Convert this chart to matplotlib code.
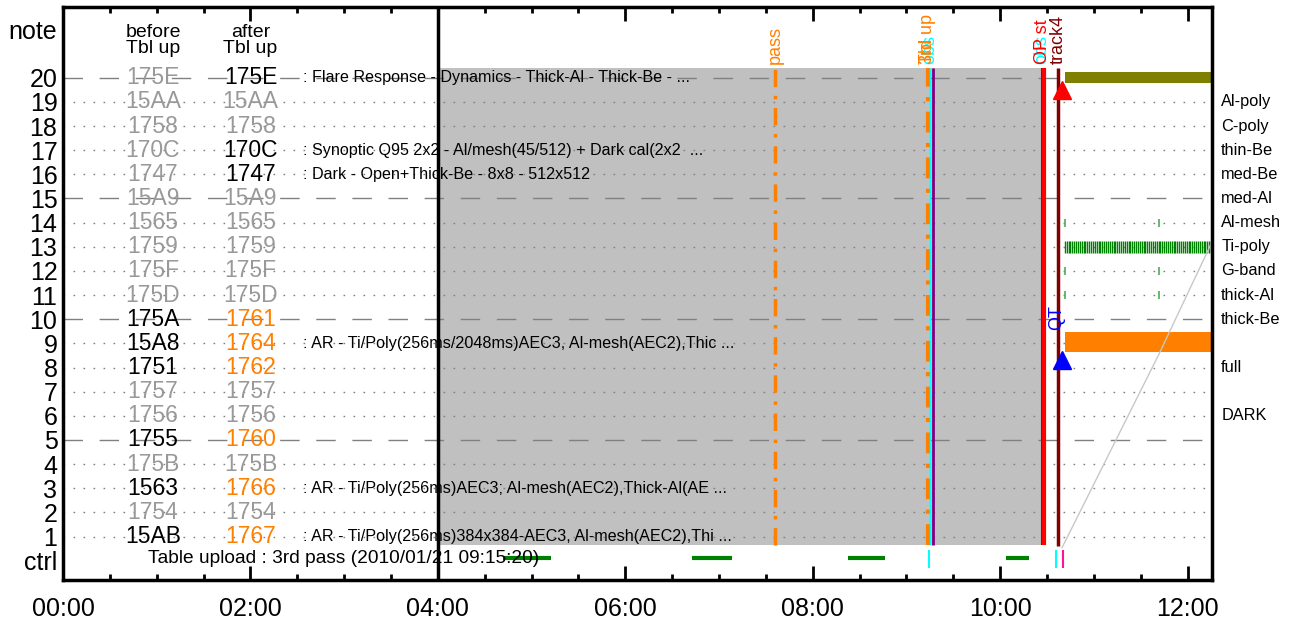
import numpy as np
import matplotlib.pyplot as plt
from matplotlib.ticker import FuncFormatter, MultipleLocator

plt.rcParams['font.family'] = ['Liberation Sans', 'DejaVu Sans']

# rows 20 -> 1 : table ids before / after the table upload
rows = list(range(20, 0, -1))
before_ids = ['175E', '15AA', '1758', '170C', '1747', '15A9', '1565', '1759', '175F', '175D',
              '175A', '15A8', '1751', '1757', '1756', '1755', '175B', '1563', '1754', '15AB']
after_ids = ['175E', '15AA', '1758', '170C', '1747', '15A9', '1565', '1759', '175F', '175D',
             '1761', '1764', '1762', '1757', '1756', '1760', '175B', '1766', '1754', '1767']
changed_rows = [10, 9, 8, 5, 3, 1]      # uploaded rows (orange after)
active_rows = [20, 17, 16]             # in use, unchanged

note_rows = [20, 17, 16, 9, 3, 1]
note_texts = [': Flare Response - Dynamics - Thick-Al - Thick-Be - ...',
              ': Synoptic Q95 2x2 - Al/mesh(45/512) + Dark cal(2x2  ...',
              ': Dark - Open+Thick-Be - 8x8 - 512x512',
              ': AR - Ti/Poly(256ms/2048ms)AEC3, Al-mesh(AEC2),Thic ...',
              ': AR - Ti/Poly(256ms)AEC3; Al-mesh(AEC2),Thick-Al(AE ...',
              ': AR - Ti/Poly(256ms)384x384-AEC3, Al-mesh(AEC2),Thi ...']

filter_rows = [19, 18, 17, 16, 15, 14, 13, 12, 11, 10, 8, 6]
filter_names = ['Al-poly', 'C-poly', 'thin-Be', 'med-Be', 'med-Al', 'Al-mesh', 'Ti-poly',
                'G-band', 'thick-Al', 'thick-Be', 'full', 'DARK']

# times in hours (UT)
busy_start, busy_end = 4.0, 10.45
pass_time = 7.60
upload_time = 9 + 15 / 60 + 20 / 3600
op_start = 10.465
track4_time = 10.62

ctrl_starts = [4.69, 6.71, 8.38, 10.06]
ctrl_ends = [5.21, 7.14, 8.77, 10.31]
ctrl_cyan = [9.237, 10.60]
ctrl_pink = [10.667]

obs_start, obs_end = 10.69, 12.26
sparse_rows = [14, 12, 11]
sparse_times = [10.69, 11.69]
tipoly_cadence_min = 1.2

drift_t = [10.66, 11.70, 12.26]
drift_y = [0.54, 8.6, 13.2]

ORANGE = '#ff8000'
GRAY = '#999999'
DASHDOT = (0, (5, 2.5, 1, 2.5))

fig = plt.figure(figsize=(12.96, 6.25), dpi=100)
ax = fig.add_axes([63 / 1296, 45 / 625, 1149 / 1296, 573 / 625])
ax.set_xlim(0, 12.26)
ax.set_ylim(-0.8, 22.93)

# busy period
ax.fill_between([busy_start, busy_end], 0.65, 20.4, color='#c0c0c0', lw=0, zorder=0)

# row guide lines
for r in rows:
    if r % 5 == 0:
        ax.axhline(r, color='#808080', lw=1, dashes=(14, 12), zorder=1)
    else:
        ax.axhline(r, color='#808080', lw=1, dashes=(1.2, 6), zorder=1)

ax.axvline(busy_start, color='k', lw=2.5, zorder=3)

# event lines
ax.vlines(pass_time, 0.65, 20.4, color=ORANGE, lw=2.5, linestyles=DASHDOT, zorder=3)
ax.vlines(upload_time - 0.03, 0.65, 20.4, color=ORANGE, lw=3, linestyles=DASHDOT, zorder=3)
ax.vlines(upload_time, 0.65, 20.4, color='cyan', lw=1, zorder=3)
ax.vlines(upload_time + 0.025, 0.65, 20.4, color='#800080', lw=2, zorder=3)
ax.vlines(op_start - 0.02, 0.65, 20.4, color='#800080', lw=1.5, zorder=3)
ax.vlines(op_start, 0.65, 20.4, color='red', lw=3, zorder=3)
ax.vlines(track4_time, 0.6, 20.4, color='#800000', lw=2.5, zorder=3)

lab_y = 20.55
ax.text(pass_time, lab_y, 'pass', rotation=90, ha='center', va='bottom', color=ORANGE, fontsize=13)
ax.text(upload_time - 0.03, lab_y, 'Tbl up', rotation=90, ha='center', va='bottom', color=ORANGE, fontsize=13)
ax.text(upload_time - 0.01, lab_y, 'obs', rotation=90, ha='center', va='bottom', color='cyan', fontsize=13)
ax.text(upload_time - 0.04, lab_y, '3rd', rotation=90, ha='center', va='bottom', color=ORANGE, fontsize=13)
ax.text(op_start - 0.02, lab_y, 'obs', rotation=90, ha='center', va='bottom', color='cyan', fontsize=13)
ax.text(op_start - 0.01, lab_y, 'OP st', rotation=90, ha='center', va='bottom', color='red', fontsize=13)
ax.text(track4_time, lab_y, 'track4', rotation=90, ha='center', va='bottom', color='#800000', fontsize=13)
ax.text(10.6, 10.05, 'QT', rotation=90, ha='center', va='center', color='blue', fontsize=13)

# observation after OP start
ax.barh(20.02, obs_end - obs_start, left=obs_start, height=0.45, color='#808000', zorder=2)
ax.barh(9.05, obs_end - obs_start, left=obs_start, height=0.8, color=ORANGE, zorder=2)
tipoly = np.arange(obs_start, obs_end, tipoly_cadence_min / 60)
ax.plot(tipoly, np.full(len(tipoly), 13), '|', color='green', ms=8, mew=1, zorder=2)
for r in sparse_rows:
    ax.plot(sparse_times, [r, r], '|', color='#4caf50', ms=6, mew=1.2, zorder=2)
ax.plot(drift_t, drift_y, color='#c8c8c8', lw=1, zorder=2)
ax.plot([10.66], [19.5], '^', color='red', ms=13, zorder=4)
ax.plot([10.66], [8.3], '^', color='blue', ms=13, zorder=4)

# ctrl row
for s, e in zip(ctrl_starts, ctrl_ends):
    ax.plot([s, e], [0.12, 0.12], color='green', lw=3, solid_capstyle='butt', zorder=2)
ax.vlines(ctrl_cyan, -0.3, 0.45, color='cyan', lw=1.5)
ax.vlines(ctrl_pink, -0.3, 0.45, color='#ff1493', lw=1.5)
ax.text(0.91, 0.1, 'Table upload : 3rd pass (2010/01/21 09:15:20)', fontsize=13.8,
        ha='left', va='center')

# table ids
ax.text(0.96, 21.55, 'before\nTbl up', ha='center', va='center', fontsize=14, linespacing=0.95)
ax.text(2.0, 21.55, 'after\nTbl up', ha='center', va='center', fontsize=14, linespacing=0.95)
for r, b, a in zip(rows, before_ids, after_ids):
    bc = 'black' if r in changed_rows else GRAY
    if r in changed_rows:
        ac = ORANGE
    elif r in active_rows:
        ac = 'black'
    else:
        ac = GRAY
    ax.text(0.96, r, b, ha='center', va='center', fontsize=16.5, color=bc, zorder=2)
    ax.text(2.0, r, a, ha='center', va='center', fontsize=16.5, color=ac, zorder=2)
for r, t in zip(note_rows, note_texts):
    ax.text(2.56, r, t, ha='left', va='center', fontsize=11.6, zorder=5)

for r, n in zip(filter_rows, filter_names):
    ax.text(1.008, r, n, transform=ax.get_yaxis_transform(), ha='left', va='center', fontsize=11.8)

# axes
ax.set_yticks([0] + rows[::-1] + [22])
ax.set_yticklabels(['ctrl'] + [str(r) for r in rows[::-1]] + ['note'], fontsize=18)
ax.tick_params(axis='y', length=0, pad=4)
ax.xaxis.set_major_locator(MultipleLocator(2))
ax.xaxis.set_minor_locator(MultipleLocator(0.5))
ax.xaxis.set_major_formatter(FuncFormatter(lambda v, p: '%02d:%02d' % (int(v), round((v % 1) * 60))))
ax.tick_params(axis='x', which='both', direction='in', top=True, width=2, labelsize=18, pad=12)
ax.tick_params(axis='x', which='major', length=10)
ax.tick_params(axis='x', which='minor', length=4)
for sp in ax.spines.values():
    sp.set_linewidth(2.5)

plt.savefig('out.png', dpi=100)
